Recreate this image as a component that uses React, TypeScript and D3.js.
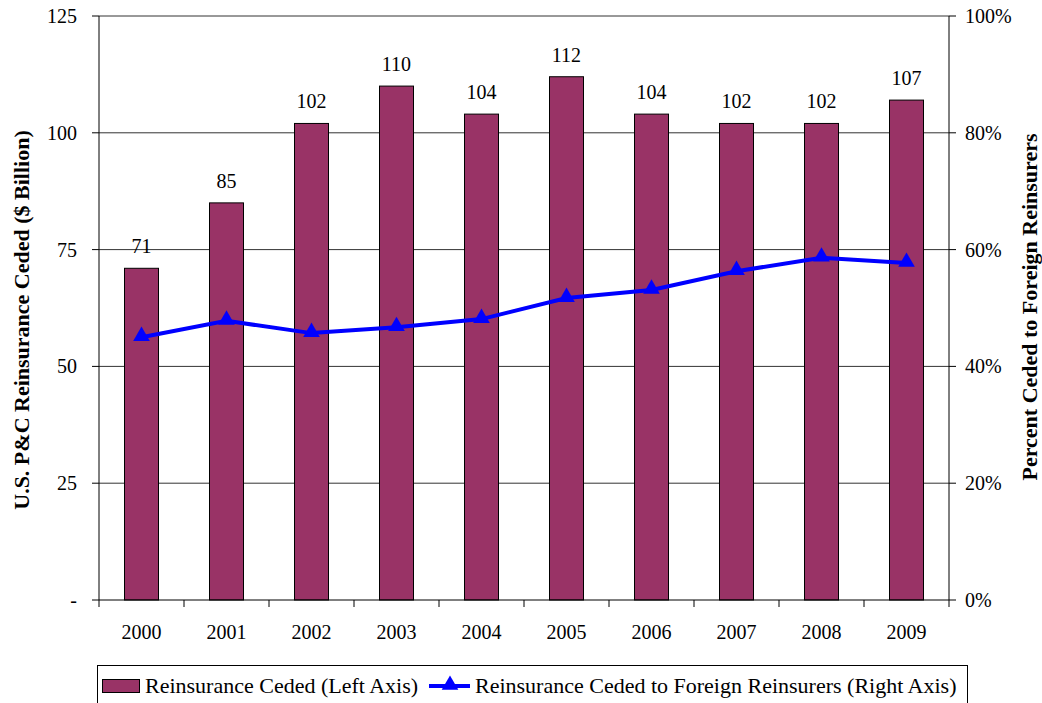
import React from "react";
import * as d3 from "d3";

const years = ["2000", "2001", "2002", "2003", "2004", "2005", "2006", "2007", "2008", "2009"];
const ceded = [71, 85, 102, 110, 104, 112, 104, 102, 102, 107];
const foreignPct = [45.0, 47.8, 45.7, 46.7, 48.1, 51.7, 53.1, 56.3, 58.6, 57.7];
const leftTicks = [0, 25, 50, 75, 100, 125];
const rightTicks = [0, 20, 40, 60, 80, 100];

const W = 1042;
const H = 703;
const m = { left: 99, right: 949, top: 16, bottom: 600 };
const FONT = "'Liberation Serif', 'Times New Roman', serif";

export default function App() {
  const x = d3.scaleBand<string>().domain(years).range([m.left, m.right]).paddingInner(0.6).paddingOuter(0.3);
  const band = d3.scaleBand<string>().domain(years).range([m.left, m.right]);
  const yL = d3.scaleLinear().domain([0, 125]).range([m.bottom, m.top]);
  const yR = d3.scaleLinear().domain([0, 100]).range([m.bottom, m.top]);
  const cx = (y: string) => (band(y) as number) + band.bandwidth() / 2;

  const line = d3
    .line<number>()
    .x((_, i) => cx(years[i]))
    .y((d) => yR(d));

  const tri = d3.symbol().type(d3.symbolTriangle).size(120);

  return (
    <svg width={W} height={H} style={{ position: "absolute", left: 0, top: 0, background: "#fff" }} fontFamily={FONT}>
      {/* horizontal gridlines */}
      {leftTicks.slice(1).map((t) => (
        <line key={"g" + t} x1={m.left} x2={m.right} y1={yL(t)} y2={yL(t)} stroke="#333" strokeWidth={1} />
      ))}
      {/* bars */}
      {years.map((yr, i) => (
        <rect
          key={"b" + yr}
          x={x(yr)}
          y={yL(ceded[i])}
          width={x.bandwidth()}
          height={m.bottom - yL(ceded[i])}
          fill="#993366"
          stroke="#000"
          strokeWidth={1}
        />
      ))}
      {years.map((yr, i) => (
        <text key={"v" + yr} x={cx(yr)} y={yL(ceded[i]) - 15} textAnchor="middle" fontSize={20} fill="#000">
          {ceded[i]}
        </text>
      ))}
      {/* axes */}
      <line x1={m.left} x2={m.left} y1={m.top} y2={m.bottom} stroke="#000" />
      <line x1={m.right} x2={m.right} y1={m.top} y2={m.bottom} stroke="#000" />
      <line x1={m.left} x2={m.right} y1={m.bottom} y2={m.bottom} stroke="#000" />
      {leftTicks.map((t) => (
        <g key={"lt" + t}>
          <line x1={m.left - 7} x2={m.left} y1={yL(t)} y2={yL(t)} stroke="#000" />
          <text x={77} y={yL(t) + 7} textAnchor="end" fontSize={20}>
            {t === 0 ? "-" : t}
          </text>
        </g>
      ))}
      {rightTicks.map((t) => (
        <g key={"rt" + t}>
          <line x1={m.right} x2={m.right + 7} y1={yR(t)} y2={yR(t)} stroke="#000" />
          <text x={965} y={yR(t) + 7} textAnchor="start" fontSize={20}>
            {t + "%"}
          </text>
        </g>
      ))}
      {[...years, "end"].map((yr, i) => {
        const xx = m.left + i * band.bandwidth();
        return <line key={"xt" + i} x1={xx} x2={xx} y1={m.bottom} y2={m.bottom + 7} stroke="#000" />;
      })}
      {years.map((yr) => (
        <text key={"xl" + yr} x={cx(yr)} y={639} textAnchor="middle" fontSize={20}>
          {yr}
        </text>
      ))}
      {/* line series */}
      <path d={line(foreignPct) || ""} fill="none" stroke="#0000FF" strokeWidth={4} />
      {years.map((yr, i) => (
        <path key={"m" + yr} d={tri() || ""} transform={`translate(${cx(yr)},${yR(foreignPct[i]) - 1})`} fill="#0000FF" />
      ))}
      {/* axis titles */}
      <text transform="translate(29,320) rotate(-90)" textAnchor="middle" fontSize={22} fontWeight="bold">
        U.S. P&amp;C Reinsurance Ceded ($ Billion)
      </text>
      <text transform="translate(1037,307) rotate(-90)" textAnchor="middle" fontSize={22} fontWeight="bold">
        Percent Ceded to Foreign Reinsurers
      </text>
      {/* legend */}
      <rect x={97.5} y={665.5} width={870} height={45} fill="#fff" stroke="#000" />
      <rect x={102.5} y={679.5} width={37} height={13} fill="#993366" stroke="#000" />
      <text x={145} y={693} fontSize={22}>
        Reinsurance Ceded (Left Axis)
      </text>
      <line x1={429} x2={470} y1={686} y2={686} stroke="#0000FF" strokeWidth={4} />
      <path d={tri() || ""} transform="translate(450,685)" fill="#0000FF" />
      <text x={475} y={693} fontSize={22}>
        Reinsurance Ceded to Foreign Reinsurers (Right Axis)
      </text>
    </svg>
  );
}
